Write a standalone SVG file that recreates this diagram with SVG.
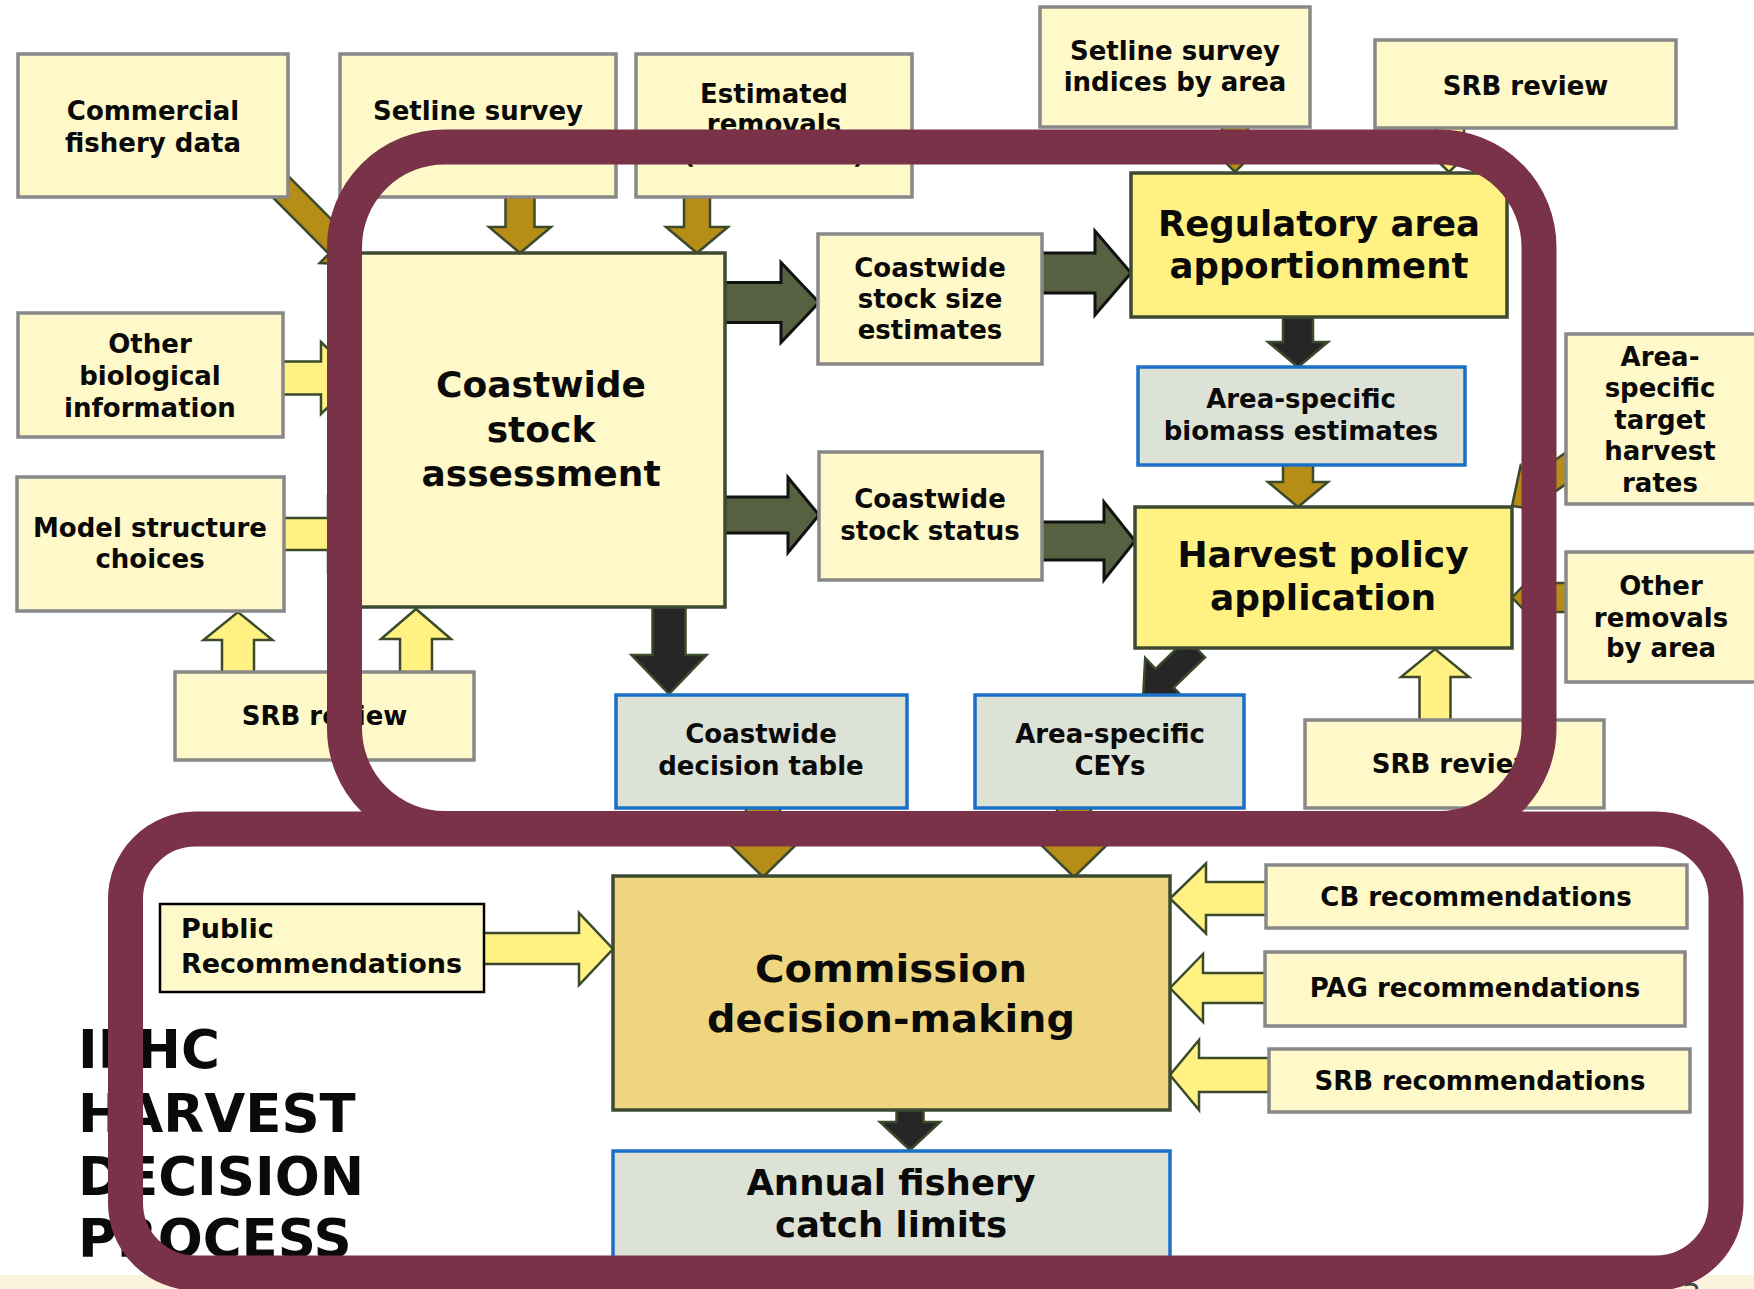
<svg xmlns="http://www.w3.org/2000/svg" width="1754" height="1289" viewBox="0 0 1754 1289">
<defs>
<style>
.in{fill:#FFF8C8;stroke:#888;stroke-width:3.5}
.main{fill:#FFF8C8;stroke:#3D4A2F;stroke-width:3.5}
.hi{fill:#FFF283;stroke:#3D4A2F;stroke-width:3.5}
.tan{fill:#EFD57F;stroke:#3D4A2F;stroke-width:3.5}
.out{fill:#DDE2D7;stroke:#1C6FC6;stroke-width:3.5}
.pub{fill:#FFF8C8;stroke:#000;stroke-width:2.5}
text{font-family:"DejaVu Sans","Liberation Sans",sans-serif;font-weight:bold;fill:#0A0A0A}
.s{font-size:26px;text-anchor:middle}
.l{font-size:36px;text-anchor:middle}
.gold{fill:#B68E17;stroke:#3C4A2C;stroke-width:2.5;stroke-linejoin:miter}
.yel{fill:#FFF283;stroke:#3C4A2C;stroke-width:2.5}
.olv{fill:#566142;stroke:#111;stroke-width:3}
.drk{fill:#262626;stroke:#3C4A2C;stroke-width:2.5}
.band{fill:none;stroke:#7A3249;stroke-width:35}
</style>
</defs>
<rect x="0" y="0" width="1754" height="1289" fill="#FFFFFF"/>
<rect x="0" y="1275" width="1754" height="14" fill="#FBF4DC"/>
<g id="connectors">
<polygon class="gold" points="505.5,195 534.5,195 534.5,227 551,227 520,253 489,227 505.5,227"/>
<polygon class="gold" points="684,195 710,195 710,227 728,227 697,253 666,227 684,227"/>
<polygon class="gold" points="271.2,158.8 347.3,235.4 356.5,226.2 357.9,264.4 319.7,263 328.9,253.8 252.8,177.2"/>
<polygon class="yel" points="281,361.5 321,361.5 321,342 358,378 321,414 321,394.5 281,394.5"/>
<polygon class="yel" points="282,518 328,518 328,498 358,534 328,570 328,550 282,550"/>
<polygon class="yel" points="222,674 254,674 254,640 272.5,640 238,612 203.5,640 222,640"/>
<polygon class="yel" points="400,674 432,674 432,639 451,639 416,609 381,639 400,639"/>
<polygon class="olv" points="723,282.5 781,282.5 781,262.5 819,302.5 781,342.5 781,322.5 723,322.5"/>
<polygon class="olv" points="1040,253 1095,253 1095,231 1131,273 1095,315 1095,293 1040,293"/>
<polygon class="olv" points="723,497 788,497 788,477.5 819,515 788,552.5 788,533 723,533"/>
<polygon class="olv" points="1040,522 1104,522 1104,502 1135,541 1104,580 1104,560 1040,560"/>
<polygon class="drk" points="1283,315 1313,315 1313,342 1328,342 1298,367 1268,342 1283,342"/>
<polygon class="gold" points="1283,463 1313,463 1313,482 1328,482 1298,507 1268,482 1283,482"/>
<polygon class="gold" points="1222,125 1248,125 1248,150 1257,150 1235,172 1213,150 1222,150"/>
<polygon class="yel" points="1436,126 1464,126 1464,150 1472,150 1449,172 1426,150 1436,150"/>
<polygon class="gold" points="1578.3,443.8 1529.2,478.2 1520.6,465.9 1512,506 1552.6,511.7 1544,499.4 1593.1,465"/>
<polygon class="gold" points="1570,583 1541,583 1541,567.5 1512,597.5 1541,627.5 1541,612 1570,612"/>
<polygon class="yel" points="1419.5,722 1450.5,722 1450.5,677 1469,677 1435,649 1401,677 1419.5,677"/>
<polygon class="drk" points="1205,657.4 1173.6,687.6 1184,698.4 1143,699 1145.2,658 1155.6,668.8 1187,638.6"/>
<polygon class="drk" points="652.5,605 685.5,605 685.5,655 706.5,655 669,694 631.5,655 652.5,655"/>
<polygon class="gold" points="746,806 780,806 780,840 801,840 763,877 725,840 746,840"/>
<polygon class="gold" points="1057,806 1091,806 1091,840 1112,840 1074,877 1036,840 1057,840"/>
<polygon class="yel" points="482,933 579,933 579,913 613,949 579,985 579,964 482,964"/>
<polygon class="yel" points="1268,882 1206,882 1206,863.5 1170,898.5 1206,933.5 1206,915 1268,915"/>
<polygon class="yel" points="1267,973 1203,973 1203,954 1170,988 1203,1022 1203,1003 1267,1003"/>
<polygon class="yel" points="1271,1058 1199,1058 1199,1040 1170,1075 1199,1110 1199,1092 1271,1092"/>
<polygon class="drk" points="896.5,1108 923.5,1108 923.5,1122 940,1122 910,1150 880,1122 896.5,1122"/>
</g>
<g id="n-commercial"><rect class="in" x="18" y="54" width="270" height="143"/><text class="s" x="153" y="120">Commercial</text><text class="s" x="153" y="152">fishery data</text></g>
<g id="n-setline"><rect class="in" x="340" y="54" width="276" height="143"/><text class="s" x="478" y="120">Setline survey</text></g>
<g id="n-removals"><rect class="in" x="636" y="54" width="276" height="143"/><text class="s" x="774" y="103">Estimated</text><text class="s" x="774" y="133">removals</text><text class="s" x="774" y="163">(all sources)</text></g>
<g id="n-indices"><rect class="in" x="1040" y="7" width="270" height="120"/><text class="s" x="1175" y="60">Setline survey</text><text class="s" x="1175" y="91">indices by area</text></g>
<g id="n-srb-top"><rect class="in" x="1375" y="40" width="301" height="88"/><text class="s" x="1525.5" y="95">SRB review</text></g>
<g id="n-assessment"><rect class="main" x="358" y="253" width="367" height="354"/><text class="l" x="541" y="397">Coastwide</text><text class="l" x="541" y="442">stock</text><text class="l" x="541" y="486">assessment</text></g>
<g id="n-size"><rect class="in" x="818" y="234" width="224" height="130"/><text class="s" x="930" y="277">Coastwide</text><text class="s" x="930" y="308">stock size</text><text class="s" x="930" y="339">estimates</text></g>
<g id="n-regulatory"><rect class="hi" x="1131" y="173" width="376" height="144"/><text class="l" x="1319" y="236" style="font-size:35.5px">Regulatory area</text><text class="l" x="1319" y="278" style="font-size:35.5px">apportionment</text></g>
<g id="n-biomass"><rect class="out" x="1138" y="367" width="327" height="98"/><text class="s" x="1301" y="408">Area-specific</text><text class="s" x="1301" y="440">biomass estimates</text></g>
<g id="n-status"><rect class="in" x="819" y="452" width="223" height="128"/><text class="s" x="930" y="508">Coastwide</text><text class="s" x="930" y="540">stock status</text></g>
<g id="n-harvest"><rect class="hi" x="1135" y="507" width="377" height="141"/><text class="l" x="1323" y="567">Harvest policy</text><text class="l" x="1323" y="610">application</text></g>
<g id="n-target"><rect class="in" x="1566" y="334" width="192" height="170"/><text class="s" x="1660" y="366">Area-</text><text class="s" x="1660" y="397">specific</text><text class="s" x="1660" y="429">target</text><text class="s" x="1660" y="460">harvest</text><text class="s" x="1660" y="492">rates</text></g>
<g id="n-otherrem"><rect class="in" x="1566" y="552" width="192" height="130"/><text class="s" x="1661" y="595">Other</text><text class="s" x="1661" y="627">removals</text><text class="s" x="1661" y="657">by area</text></g>
<g id="n-otherbio"><rect class="in" x="18" y="313" width="265" height="124"/><text class="s" x="150" y="353">Other</text><text class="s" x="150" y="385">biological</text><text class="s" x="150" y="417">information</text></g>
<g id="n-model"><rect class="in" x="17" y="477" width="267" height="134"/><text class="s" x="150" y="537">Model structure</text><text class="s" x="150" y="568">choices</text></g>
<g id="n-srb-left"><rect class="in" x="175" y="672" width="299" height="88"/><text class="s" x="324.5" y="725">SRB review</text></g>
<g id="n-decision"><rect class="out" x="616" y="695" width="291" height="113"/><text class="s" x="761" y="743">Coastwide</text><text class="s" x="761" y="775">decision table</text></g>
<g id="n-ceys"><rect class="out" x="975" y="695" width="269" height="113"/><text class="s" x="1110" y="743">Area-specific</text><text class="s" x="1110" y="775">CEYs</text></g>
<g id="n-srb-br"><rect class="in" x="1305" y="720" width="299" height="88"/><text class="s" x="1454.5" y="773">SRB review</text></g>
<g id="n-public"><rect class="pub" x="160" y="904" width="324" height="88"/><text x="181" y="938" style="font-size:27px">Public</text><text x="181" y="973" style="font-size:27px">Recommendations</text></g>
<g id="n-commission"><rect class="tan" x="613" y="876" width="557" height="234"/><text class="l" x="891" y="982" style="font-size:37px" textLength="272" lengthAdjust="spacingAndGlyphs">Commission</text><text class="l" x="891" y="1032" style="font-size:37px" textLength="368" lengthAdjust="spacingAndGlyphs">decision-making</text></g>
<g id="n-cb"><rect class="in" x="1266" y="865" width="421" height="63"/><text class="s" x="1476" y="906">CB recommendations</text></g>
<g id="n-pag"><rect class="in" x="1265" y="952" width="420" height="74"/><text class="s" x="1475" y="997">PAG recommendations</text></g>
<g id="n-srbrec"><rect class="in" x="1269" y="1049" width="421" height="63"/><text class="s" x="1480" y="1090">SRB recommendations</text></g>
<g id="n-annual"><rect class="out" x="613" y="1151" width="557" height="120"/><text class="l" x="891" y="1195" style="font-size:35.5px">Annual fishery</text><text class="l" x="891" y="1237" style="font-size:35.5px">catch limits</text></g>
<g id="title" style="font-size:53px">
<text x="78" y="1068">IPHC</text>
<text x="78" y="1132">HARVEST</text>
<text x="78" y="1195">DECISION</text>
<text x="78" y="1257">PROCESS</text>
</g>
<g id="highlights">
<rect class="band" x="344.5" y="147" width="1194.5" height="681.5" rx="100" ry="100"/>
<rect class="band" x="125.5" y="829" width="1600.5" height="444" rx="70" ry="70"/>
</g>
<text x="1682" y="1305" style="font-size:30px;font-weight:normal;fill:#444">3</text>
</svg>
